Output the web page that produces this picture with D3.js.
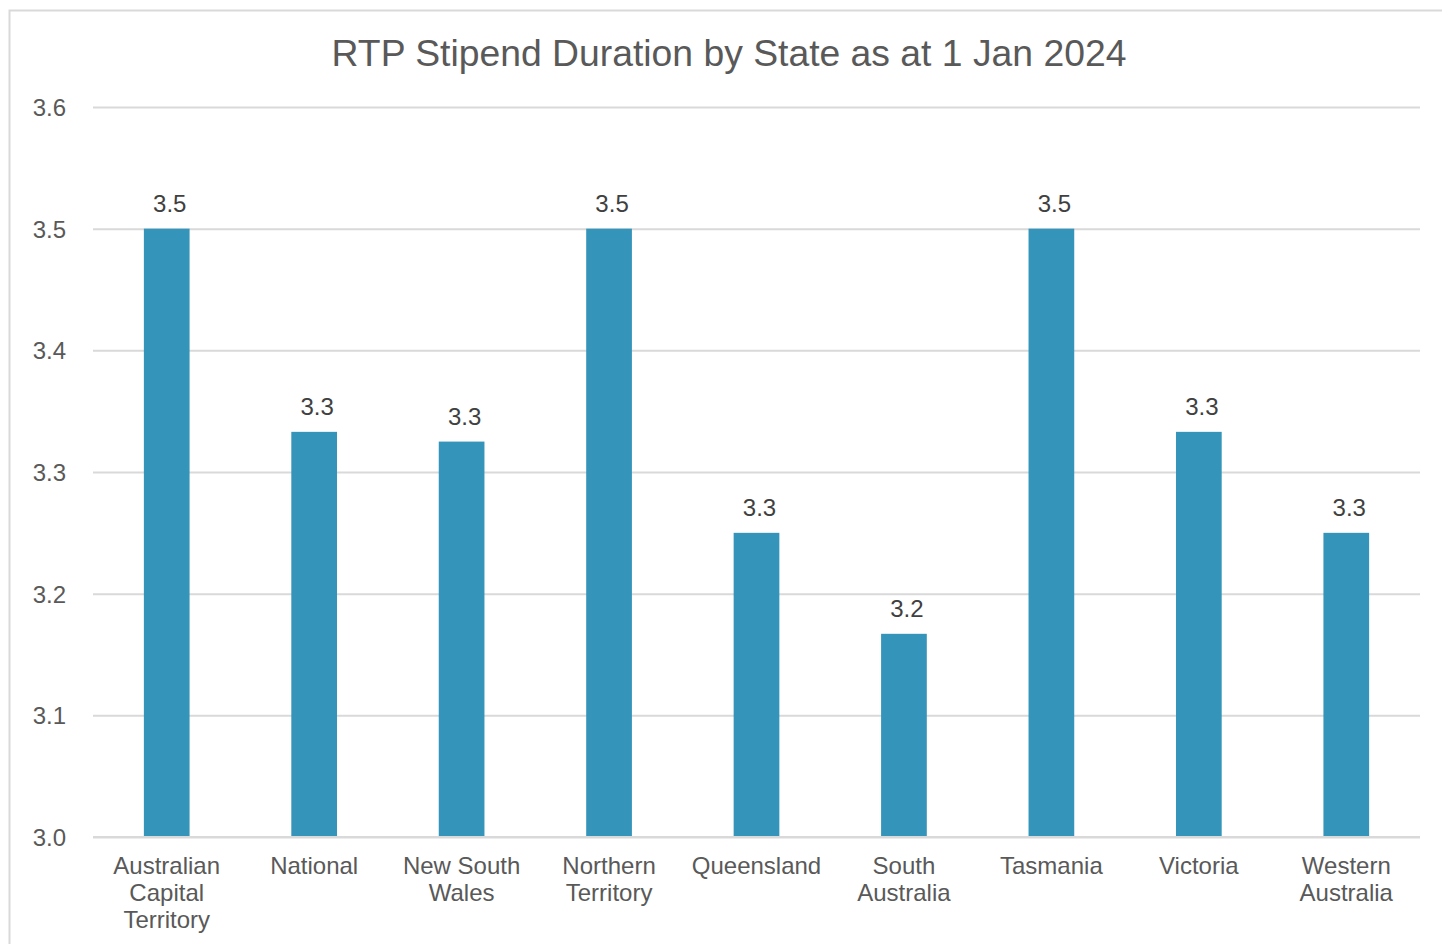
<!DOCTYPE html>
<html>
<head>
<meta charset="utf-8">
<script src="https://cdn.jsdelivr.net/npm/d3@7"></script>
<style>
  body { margin: 0; background: #fff; }
  svg { display: block; font-family: "Liberation Sans", Arial, sans-serif; }
</style>
</head>
<body>
<svg id="chart"></svg>
<script>
// chart data
const categories = [
  ['Australian', 'Capital', 'Territory'],
  ['National'],
  ['New South', 'Wales'],
  ['Northern', 'Territory'],
  ['Queensland'],
  ['South', 'Australia'],
  ['Tasmania'],
  ['Victoria'],
  ['Western', 'Australia']
];
const values = [3.5, 3.333, 3.325, 3.5, 3.25, 3.167, 3.5, 3.333, 3.25];
const yTicks = [3.0, 3.1, 3.2, 3.3, 3.4, 3.5, 3.6];
const title = 'RTP Stipend Duration by State as at 1 Jan 2024';

const width = 1442, height = 944;
const margin = { top: 107, right: 22, bottom: 107, left: 93 };

const svg = d3.select('#chart')
  .attr('width', width)
  .attr('height', height);

// outer chart border
svg.append('rect')
  .attr('x', 9.5).attr('y', 10.5)
  .attr('width', width).attr('height', height)
  .attr('fill', '#fff')
  .attr('stroke', '#d9d9d9')
  .attr('stroke-width', 2);

svg.append('text')
  .attr('x', 729)
  .attr('y', 66)
  .attr('text-anchor', 'middle')
  .attr('fill', '#595959')
  .style('font-size', '37.3px')
  .text(title);

const innerW = width - margin.left - margin.right;
const innerH = height - margin.top - margin.bottom;

const g = svg.append('g')
  .attr('transform', `translate(${margin.left},${margin.top})`);

const xScale = d3.scaleBand()
  .domain(d3.range(categories.length))
  .range([0, innerW])
  .padding(0);

const yScale = d3.scaleLinear()
  .domain([3.0, 3.6])
  .range([innerH, 0]);

// gridlines + tick labels
const yAxis = d3.axisLeft(yScale)
  .tickValues(yTicks)
  .tickFormat(d3.format('.1f'))
  .tickSize(-innerW)
  .tickPadding(27);

const yAxisG = g.append('g').call(yAxis);
yAxisG.select('.domain').remove();
yAxisG.selectAll('.tick line').attr('stroke', '#d9d9d9').attr('stroke-width', 2);
yAxisG.selectAll('.tick text')
  .attr('fill', '#595959')
  .style('font-size', '24px')
  .attr('dy', '0.35em');

const barW = xScale.bandwidth() * 0.31;

g.selectAll('.bar')
  .data(values)
  .join('rect')
  .attr('class', 'bar')
  .attr('x', (d, i) => xScale(i) + xScale.bandwidth() / 2 - barW / 2)
  .attr('y', d => yScale(d))
  .attr('width', barW)
  .attr('height', d => innerH - yScale(d))
  .attr('fill', '#3494ba');

// redraw baseline above bars
g.append('line')
  .attr('x1', 0).attr('x2', innerW)
  .attr('y1', innerH).attr('y2', innerH)
  .attr('stroke', '#d9d9d9')
  .attr('stroke-width', 2);

g.selectAll('.val')
  .data(values)
  .join('text')
  .attr('class', 'val')
  .attr('x', (d, i) => xScale(i) + xScale.bandwidth() / 2 + 3)
  .attr('y', d => yScale(d) - 17)
  .attr('text-anchor', 'middle')
  .attr('fill', '#404040')
  .style('font-size', '24px')
  .text(d => d3.format('.1f')(d));

// category labels
const catG = g.selectAll('.cat')
  .data(categories)
  .join('text')
  .attr('class', 'cat')
  .attr('text-anchor', 'middle')
  .attr('fill', '#595959')
  .style('font-size', '24px');

catG.selectAll('tspan')
  .data((d, i) => d.map(line => ({ line, i })))
  .join('tspan')
  .attr('x', d => xScale(d.i) + xScale.bandwidth() / 2)
  .attr('y', (d, j) => innerH + 37 + j * 27)
  .text(d => d.line);
</script>
</body>
</html>
